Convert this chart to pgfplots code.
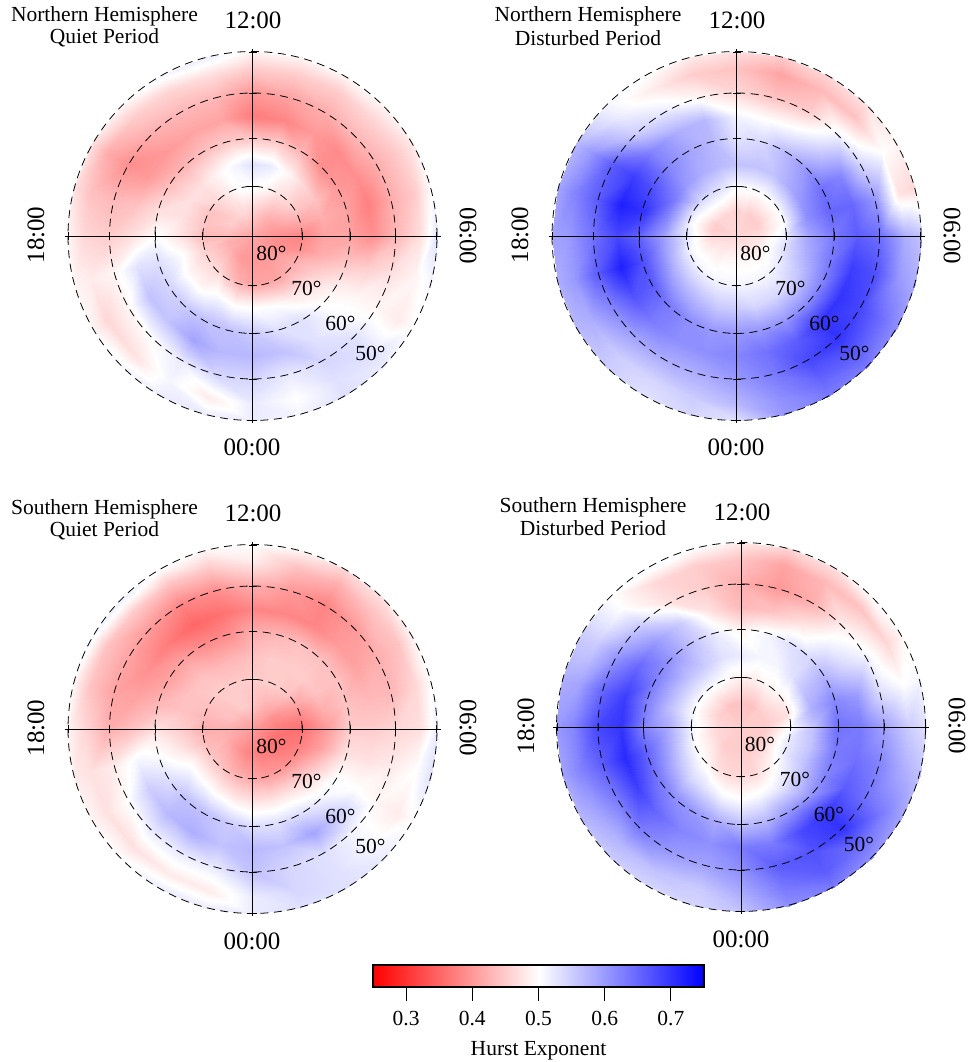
\documentclass[border=0pt]{standalone}
\usepackage{fontspec}
\setmainfont{Liberation Serif}
\usepackage{pgfplots}
\usepackage{pgfplotstable}
\pgfplotsset{compat=1.18}
% one value per line position: rings r = 0,24,...,168,185 px; 25 angles clockwise from 12:00 in 15 degree steps
\pgfplotstableread[row sep=crcr]{
v\\
.41\\.41\\.41\\.41\\.41\\.41\\.41\\.41\\.41\\.41\\.41\\.41\\.41\\.41\\.41\\.41\\.41\\.41\\.41\\.41\\.41\\.41\\.41\\.41\\.41\\
.45\\.44\\.43\\.42\\.41\\.40\\.39\\.39\\.39\\.40\\.40\\.40\\.40\\.40\\.40\\.41\\.42\\.42\\.43\\.44\\.45\\.45\\.46\\.46\\.45\\
.50\\.49\\.47\\.46\\.44\\.41\\.38\\.39\\.42\\.42\\.41\\.41\\.41\\.42\\.44\\.46\\.46\\.45\\.43\\.44\\.44\\.46\\.48\\.50\\.50\\
.53\\.52\\.49\\.46\\.44\\.42\\.41\\.42\\.45\\.47\\.48\\.50\\.50\\.50\\.51\\.49\\.49\\.50\\.47\\.47\\.47\\.47\\.49\\.51\\.53\\
.45\\.45\\.43\\.39\\.40\\.41\\.41\\.44\\.48\\.50\\.53\\.53\\.55\\.56\\.56\\.55\\.54\\.53\\.50\\.47\\.44\\.43\\.44\\.45\\.45\\
.37\\.38\\.40\\.385\\.39\\.375\\.39\\.45\\.49\\.51\\.53\\.56\\.57\\.57\\.59\\.56\\.56\\.53\\.47\\.44\\.40\\.40\\.41\\.41\\.37\\
.40\\.41\\.42\\.43\\.42\\.42\\.43\\.47\\.49\\.53\\.54\\.52\\.54\\.54\\.52\\.50\\.49\\.49\\.45\\.43\\.39\\.42\\.43\\.43\\.40\\
.45\\.45\\.45\\.46\\.45\\.45\\.47\\.49\\.48\\.53\\.53\\.50\\.52\\.48\\.51\\.47\\.46\\.48\\.46\\.44\\.42\\.45\\.46\\.47\\.45\\
.49\\.49\\.49\\.49\\.48\\.50\\.53\\.51\\.50\\.52\\.53\\.51\\.52\\.52\\.52\\.51\\.49\\.49\\.49\\.47\\.47\\.49\\.51\\.52\\.49\\
}\NQ
\pgfplotstableread[row sep=crcr]{
v\\
.46\\.46\\.46\\.46\\.46\\.46\\.46\\.46\\.46\\.46\\.46\\.46\\.46\\.46\\.46\\.46\\.46\\.46\\.46\\.46\\.46\\.46\\.46\\.46\\.46\\
.45\\.46\\.45\\.45\\.45\\.46\\.47\\.48\\.48\\.48\\.49\\.49\\.49\\.49\\.49\\.48\\.48\\.47\\.46\\.45\\.45\\.46\\.46\\.46\\.45\\
.50\\.50\\.50\\.50\\.50\\.50\\.52\\.53\\.52\\.51\\.51\\.51\\.51\\.51\\.51\\.51\\.51\\.51\\.52\\.51\\.52\\.53\\.53\\.52\\.50\\
.56\\.56\\.56\\.58\\.60\\.61\\.59\\.58\\.56\\.54\\.54\\.54\\.55\\.55\\.56\\.57\\.58\\.59\\.59\\.62\\.63\\.60\\.58\\.57\\.56\\
.53\\.54\\.57\\.60\\.64\\.65\\.63\\.63\\.62\\.61\\.60\\.60\\.60\\.60\\.61\\.63\\.66\\.67\\.65\\.70\\.67\\.62\\.59\\.57\\.53\\
.51\\.50\\.51\\.55\\.62\\.65\\.66\\.69\\.70\\.70\\.66\\.64\\.62\\.61\\.61\\.63\\.67\\.72\\.68\\.72\\.69\\.62\\.58\\.57\\.51\\
.46\\.44\\.45\\.51\\.54\\.60\\.64\\.67\\.68\\.70\\.68\\.63\\.60\\.58\\.58\\.59\\.62\\.66\\.64\\.66\\.66\\.55\\.52\\.49\\.46\\
.44\\.41\\.43\\.44\\.50\\.47\\.58\\.60\\.64\\.66\\.65\\.61\\.57\\.55\\.54\\.55\\.58\\.60\\.60\\.62\\.60\\.52\\.48\\.45\\.44\\
.47\\.45\\.46\\.47\\.49\\.46\\.56\\.58\\.61\\.63\\.63\\.60\\.53\\.54\\.53\\.55\\.57\\.58\\.59\\.59\\.57\\.51\\.50\\.48\\.47\\
}\ND
\pgfplotstableread[row sep=crcr]{
v\\
.40\\.40\\.40\\.40\\.40\\.40\\.40\\.40\\.40\\.40\\.40\\.40\\.40\\.40\\.40\\.40\\.40\\.40\\.40\\.40\\.40\\.40\\.40\\.40\\.40\\
.44\\.43\\.42\\.41\\.39\\.38\\.37\\.36\\.36\\.36\\.37\\.37\\.38\\.38\\.39\\.40\\.41\\.42\\.42\\.43\\.44\\.44\\.45\\.45\\.44\\
.45\\.45\\.45\\.44\\.41\\.38\\.36\\.37\\.38\\.39\\.40\\.40\\.41\\.42\\.43\\.44\\.44\\.43\\.42\\.43\\.44\\.45\\.45\\.45\\.45\\
.44\\.45\\.45\\.45\\.44\\.42\\.40\\.41\\.44\\.46\\.47\\.47\\.47\\.48\\.49\\.50\\.50\\.47\\.45\\.44\\.44\\.44\\.43\\.43\\.44\\
.42\\.43\\.44\\.44\\.44\\.44\\.45\\.47\\.50\\.51\\.53\\.53\\.53\\.55\\.56\\.56\\.53\\.50\\.47\\.43\\.41\\.41\\.39\\.39\\.42\\
.38\\.38\\.38\\.40\\.41\\.43\\.45\\.47\\.50\\.55\\.59\\.56\\.57\\.56\\.58\\.57\\.55\\.51\\.44\\.41\\.39\\.37\\.35\\.36\\.38\\
.42\\.40\\.38\\.40\\.42\\.43\\.46\\.48\\.49\\.51\\.53\\.54\\.56\\.52\\.52\\.52\\.50\\.48\\.42\\.41\\.41\\.40\\.38\\.39\\.42\\
.48\\.44\\.42\\.44\\.44\\.46\\.47\\.50\\.48\\.51\\.53\\.54\\.52\\.48\\.48\\.47\\.47\\.47\\.46\\.44\\.44\\.45\\.44\\.45\\.48\\
.50\\.49\\.46\\.47\\.49\\.50\\.52\\.53\\.50\\.52\\.53\\.53\\.52\\.52\\.52\\.50\\.49\\.48\\.49\\.49\\.51\\.52\\.50\\.49\\.50\\
}\SQ
\pgfplotstableread[row sep=crcr]{
v\\
.45\\.45\\.45\\.45\\.45\\.45\\.45\\.45\\.45\\.45\\.45\\.45\\.45\\.45\\.45\\.45\\.45\\.45\\.45\\.45\\.45\\.45\\.45\\.45\\.45\\
.44\\.44\\.44\\.45\\.45\\.45\\.45\\.45\\.45\\.45\\.45\\.45\\.45\\.45\\.45\\.45\\.46\\.46\\.46\\.46\\.45\\.45\\.44\\.44\\.44\\
.48\\.48\\.49\\.49\\.48\\.47\\.50\\.52\\.52\\.50\\.48\\.46\\.46\\.46\\.47\\.49\\.50\\.50\\.51\\.50\\.50\\.50\\.50\\.49\\.48\\
.52\\.51\\.51\\.53\\.56\\.58\\.56\\.56\\.56\\.54\\.52\\.51\\.50\\.51\\.53\\.54\\.56\\.58\\.58\\.56\\.56\\.56\\.55\\.53\\.52\\
.49\\.51\\.53\\.54\\.58\\.62\\.64\\.63\\.62\\.60\\.60\\.57\\.56\\.58\\.60\\.61\\.63\\.65\\.62\\.62\\.62\\.60\\.56\\.52\\.49\\
.43\\.44\\.47\\.51\\.54\\.60\\.63\\.64\\.66\\.70\\.68\\.63\\.63\\.61\\.62\\.65\\.69\\.71\\.70\\.69\\.65\\.60\\.55\\.47\\.43\\
.42\\.40\\.42\\.48\\.51\\.53\\.59\\.62\\.64\\.70\\.67\\.66\\.61\\.59\\.60\\.63\\.63\\.66\\.68\\.65\\.60\\.55\\.47\\.45\\.42\\
.44\\.41\\.43\\.44\\.46\\.50\\.55\\.58\\.62\\.64\\.66\\.63\\.58\\.55\\.56\\.57\\.59\\.62\\.62\\.59\\.55\\.50\\.46\\.45\\.44\\
.48\\.46\\.47\\.50\\.49\\.51\\.53\\.56\\.59\\.61\\.63\\.61\\.56\\.54\\.54\\.55\\.57\\.59\\.60\\.58\\.55\\.50\\.51\\.50\\.48\\
}\SD
\pgfplotsset{
  colormap={bwr}{rgb=(1,0,0) rgb=(1,1,1) rgb=(0,0,1)},
  colormap name=bwr,
}
\newcommand\panel[3]{%
\begin{axis}[at={(#1pt,{1062pt-#2pt})},anchor=center,scale only axis,width=400pt,height=400pt,
  xmin=-200,xmax=200,ymin=-200,ymax=200,hide axis,clip=false,
  point meta min=.25,point meta max=.75]
\addplot[surf,shader=interp,mesh/rows=9,mesh/cols=25,point meta=\thisrow{v}] table[x index=0,y index=0,
  x expr={min(24*floor((\coordindex+0.5)/25),185)*sin(15*floor(mod(\coordindex+0.5,25)))},
  y expr={min(24*floor((\coordindex+0.5)/25),185)*cos(15*floor(mod(\coordindex+0.5,25)))}] {#3};
\draw[black,line width=.8pt,dash pattern=on 8pt off 5.5pt]
  (axis cs:0,0) circle[radius=49.7]
  (axis cs:0,0) circle[radius=97.5]
  (axis cs:0,0) circle[radius=143]
  (axis cs:0,0) circle[radius=184.5];
\draw[black,line width=.9pt] (axis cs:-188,0) -- (axis cs:188,0) (axis cs:0,-187) -- (axis cs:0,187);
\draw[black,line width=.9pt]
  (axis cs:-4,-49.7) -- (axis cs:4,-49.7) (axis cs:-4,-97.5) -- (axis cs:4,-97.5) (axis cs:-4,-143) -- (axis cs:4,-143)
  (axis cs:-4,-184) -- (axis cs:4,-184) (axis cs:-4,49.7) -- (axis cs:4,49.7) (axis cs:-4,97.5) -- (axis cs:4,97.5)
  (axis cs:-4,143) -- (axis cs:4,143) (axis cs:-4,184) -- (axis cs:4,184)
  (axis cs:49.7,-4) -- (axis cs:49.7,4) (axis cs:97.5,-4) -- (axis cs:97.5,4) (axis cs:143,-4) -- (axis cs:143,4)
  (axis cs:184,-4) -- (axis cs:184,4) (axis cs:-49.7,-4) -- (axis cs:-49.7,4) (axis cs:-97.5,-4) -- (axis cs:-97.5,4)
  (axis cs:-143,-4) -- (axis cs:-143,4) (axis cs:-184,-4) -- (axis cs:-184,4);
\node[font=\fs] at (axis cs:19,-17) {80°};
\node[font=\fs] at (axis cs:54,-52) {70°};
\node[font=\fs] at (axis cs:88,-87) {60°};
\node[font=\fs] at (axis cs:118,-117) {50°};
\end{axis}}
\newcommand\fs{\fontsize{21.5}{24}\selectfont}
\newcommand\fb{\fontsize{25}{28}\selectfont}
\newcommand\T[3]{\node[font=\fs,inner sep=0pt] at (#1pt,{1062pt-#2pt}) {#3};}
\newcommand\B[4][0]{\node[font=\fb,inner sep=0pt,rotate=#1] at (#2pt,{1062pt-#3pt}) {#4};}
\begin{document}
\begin{tikzpicture}
\path[use as bounding box] (0,0) rectangle (969pt,1062pt);
\panel{252.5}{236}{\NQ}
\panel{736.5}{236}{\ND}
\panel{252.5}{729}{\SQ}
\panel{741}{727}{\SD}
\T{104.5}{16}{Northern Hemisphere}
\T{104.5}{38}{Quiet Period}
\T{588}{16}{Northern Hemisphere}
\T{588}{38}{Disturbed Period}
\T{104.5}{509}{Southern Hemisphere}
\T{104.5}{531}{Quiet Period}
\T{593}{507}{Southern Hemisphere}
\T{593}{528}{Disturbed Period}
\B{253}{20}{12:00}\B{252}{447}{00:00}\B[90]{36}{235}{18:00}\B[-90]{468}{236}{06:00}
\B{737}{20}{12:00}\B{736}{447}{00:00}\B[90]{520}{235}{18:00}\B[-90]{952}{236}{06:00}
\B{253}{513}{12:00}\B{252}{941}{00:00}\B[90]{36}{728}{18:00}\B[-90]{468}{728}{06:00}
\B{742}{512}{12:00}\B{741}{939}{00:00}\B[90]{526}{726}{18:00}\B[-90]{957}{726}{06:00}
\begin{axis}[at={(373pt,{1062pt-987pt})},anchor=south west,scale only axis,width=331pt,height=22pt,
  xmin=.25,xmax=.75,ymin=0,ymax=1,ytick=\empty,axis on top,
  point meta min=.25,point meta max=.75,
  xtick={.3,.4,.5,.6,.7},xticklabels={0.3,0.4,0.5,0.6,0.7},xtick pos=bottom,
  tick align=outside,major tick length=14pt,
  every tick/.style={black,line width=1pt},
  axis line style={line width=1.3pt},
  x tick label style={font=\fs,yshift=-7pt},
  xlabel={Hurst Exponent},xlabel style={font=\fs,yshift=-8pt}]
\addplot[surf,shader=interp,mesh/rows=2,point meta=x] coordinates {(.25,0) (.5,0) (.75,0) (.25,1) (.5,1) (.75,1)};
\end{axis}
\end{tikzpicture}
\end{document}
